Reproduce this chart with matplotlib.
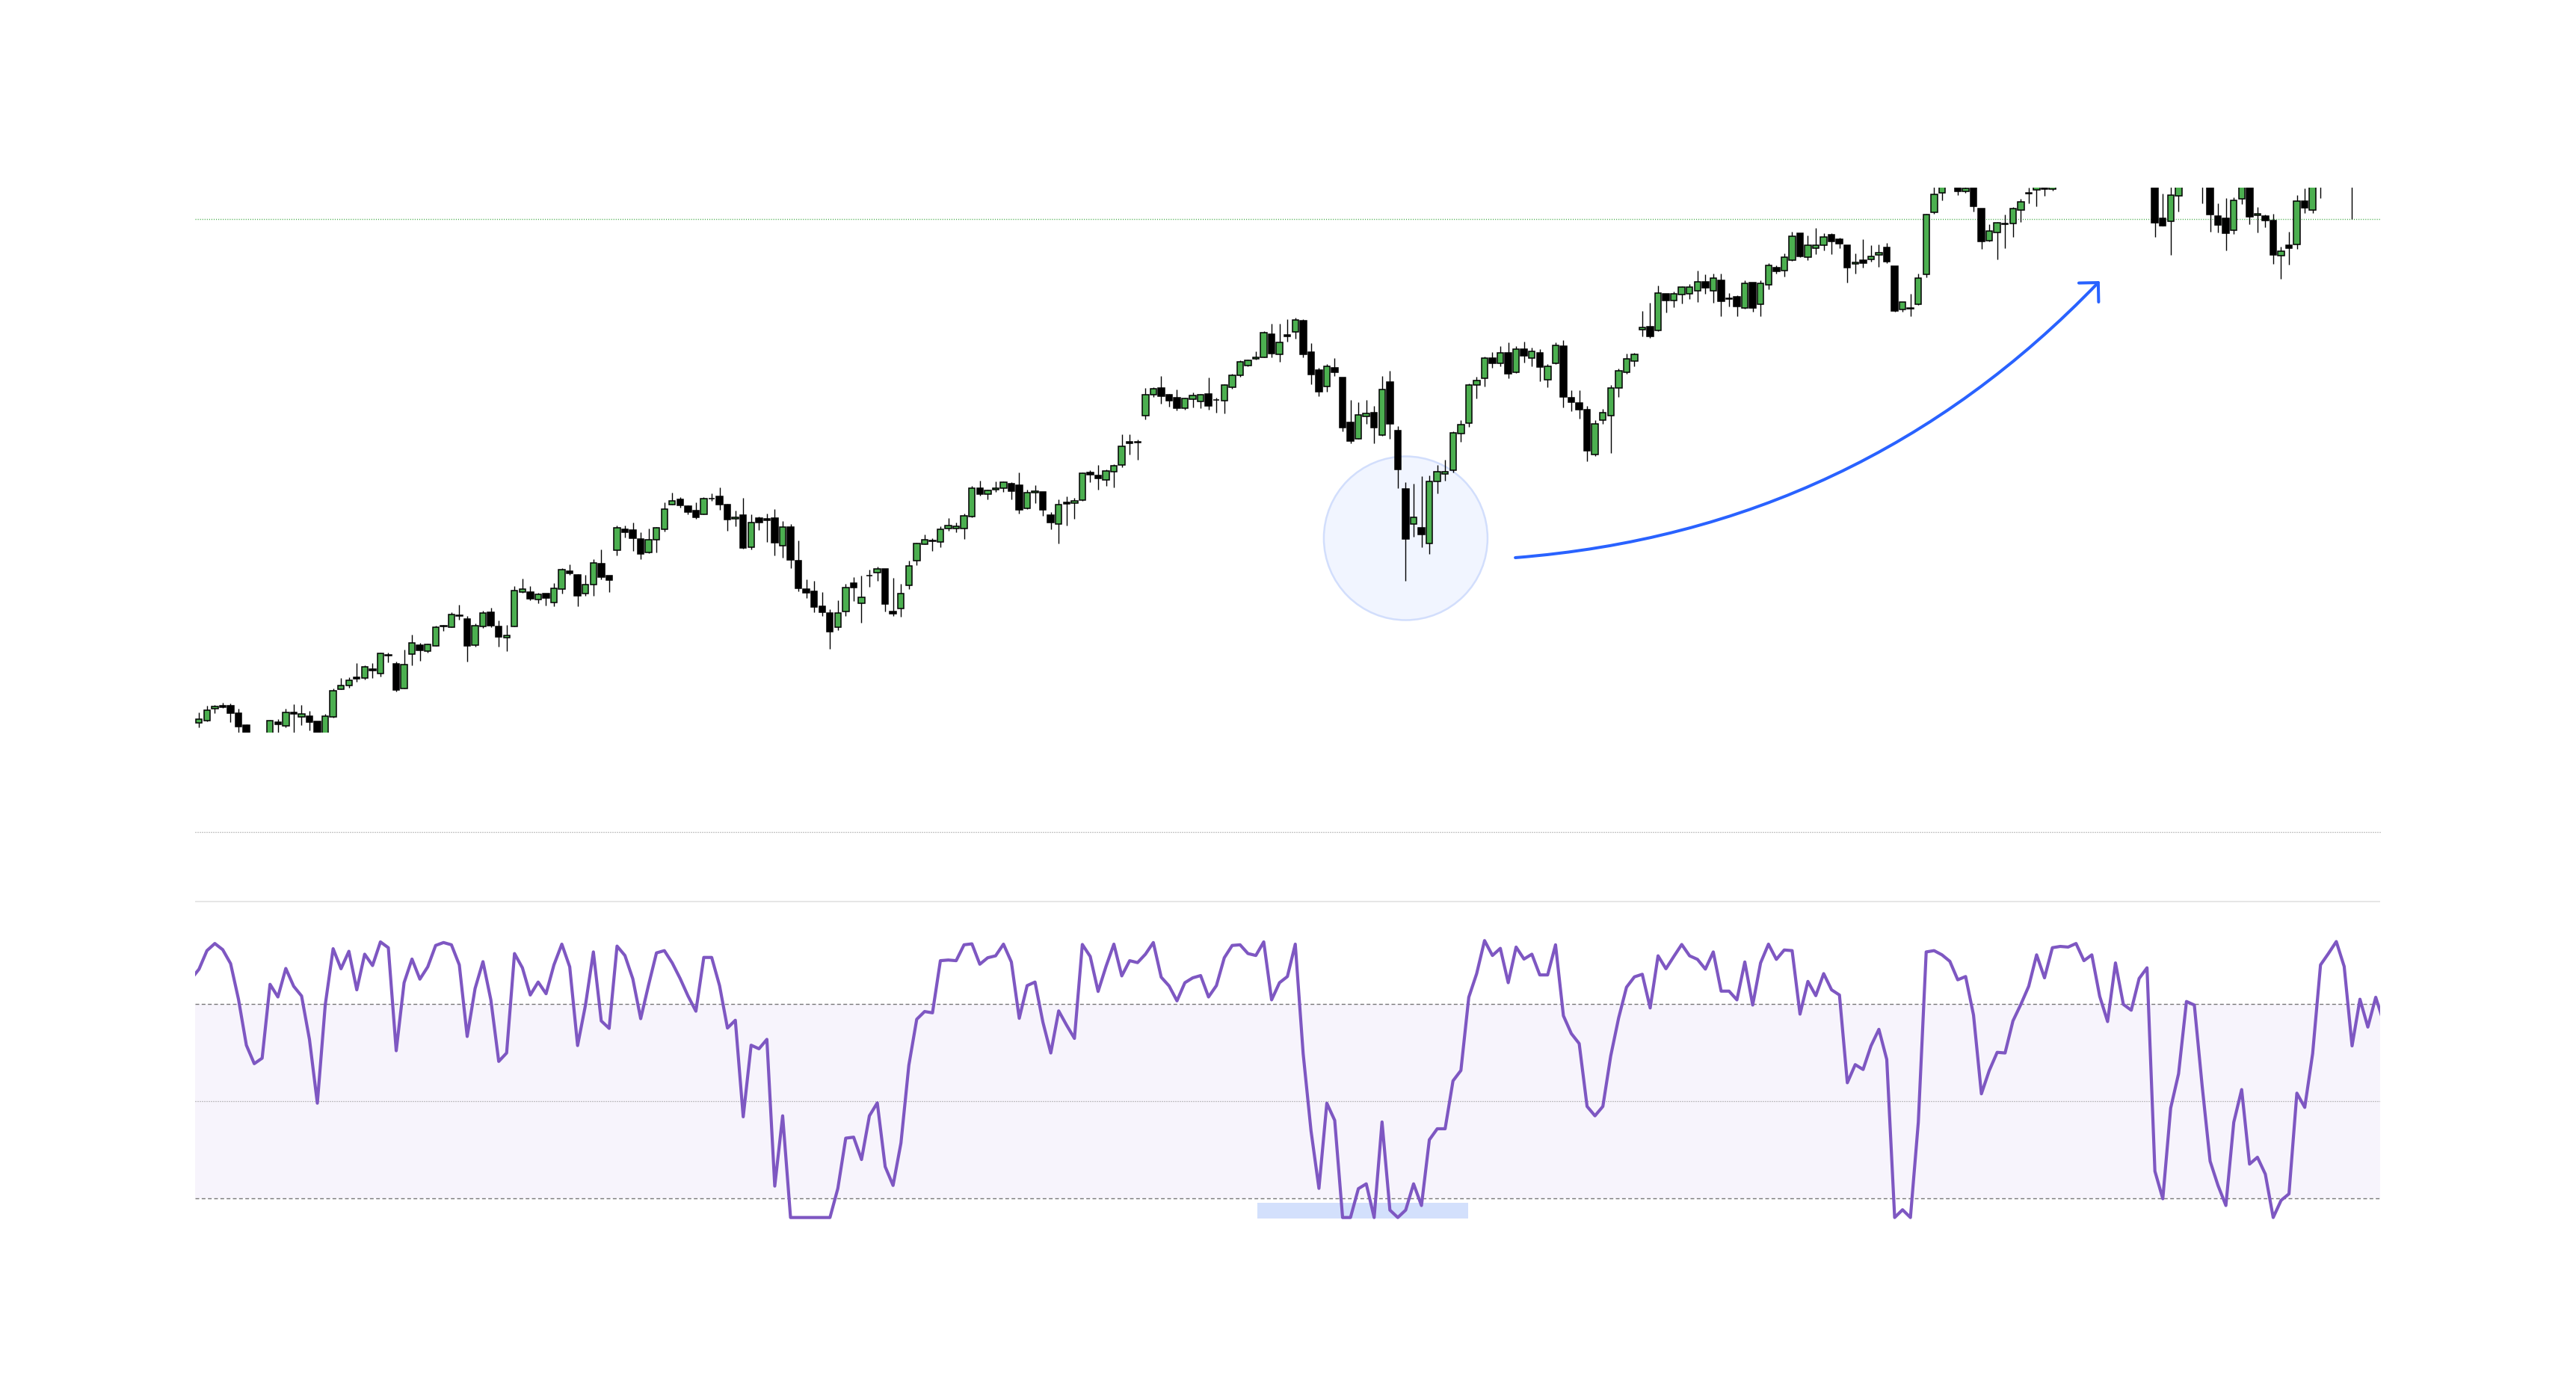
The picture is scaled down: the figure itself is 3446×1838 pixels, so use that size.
import matplotlib
matplotlib.use("Agg")
import matplotlib.pyplot as plt
from matplotlib.patches import Ellipse, Rectangle, FancyArrowPatch, ArrowStyle
import numpy as np

plt.rcParams['lines.scale_dashes'] = False

# ---------------- data (price panel) ----------------
opens = [
    33, 36, 52, 56, 56, 46, 30, 14, 10, 15,
    34, 29, 47, 41, 42, 35, 17, 41, 78, 83,
    94, 93, 105, 99, 124.5, 112, 79, 125, 137, 129,
    136, 162, 161, 176.8, 172, 137, 162, 181, 162, 147,
    162, 208, 208, 198, 206, 194, 212, 236, 231, 206,
    218, 246, 230, 264, 292, 291, 279, 261, 278, 292,
    325, 332, 323, 317, 312, 333.3, 336, 325, 306, 311,
    268, 307, 306, 307, 270, 295, 250, 212, 209, 189,
    180, 161, 182, 220, 193, 230.3, 234, 239, 182, 186,
    217, 250, 272, 277, 275, 293, 293, 293, 309, 347,
    339, 345, 347, 353, 351, 320, 341, 342, 311, 299,
    328, 327, 331, 368, 364, 358, 369, 378, 409, 408.8,
    444, 472, 481, 472, 468, 454, 466, 463, 473, 465.3,
    464, 482, 498, 511, 520, 522, 553, 526, 552, 556,
    571, 529, 505, 483, 508, 495, 435, 413, 443, 448,
    418, 489, 424, 346, 299, 294, 273, 356, 366, 371,
    420, 434, 485, 494, 521, 514, 528, 502, 533, 521,
    528, 492, 514, 537, 468, 461, 452, 392, 438, 444,
    481, 502, 517, 559, 563, 558, 607, 598, 606, 607,
    611, 623, 611, 625, 600, 603, 588, 622, 593, 619,
    642, 638, 652, 688, 656, 668, 672, 686, 680, 672,
    647, 652, 653, 659, 669, 644, 586, 588, 593, 633,
    716, 742, 752, 755, 744, 752, 721, 678, 689, 700,
    701, 719, 742, 746, 753, 747, 753, 760, 768, 776,
    770, 778, 768, 762, 775, 768, 765, 772, 760, 708,
    704, 738, 756, 770, 762, 755, 711, 708, 692, 734,
    755, 712, 711, 705, 658, 672, 673, 731, 719, 755,
    765, 775, 785, 778, 752, 762, 756,
]
highs = [
    47, 56, 57, 60, 59, 52, 31, 18, 16, 37,
    38, 52, 58, 57, 49, 35, 45, 79, 93, 94,
    113, 110, 113, 127, 127, 115, 131, 151, 140, 139,
    163, 164, 181, 191, 176, 166, 183, 187, 170, 164,
    216, 226, 216, 207, 206, 220, 240, 245, 232, 231,
    252, 265, 230, 297, 297, 301, 288, 293, 295, 328,
    341, 335, 324, 328, 335, 340, 348, 326, 317, 334,
    312, 309, 313, 319, 303, 299, 277, 225, 223, 208,
    185, 197, 219, 228, 230, 238, 242, 239, 227, 219,
    250, 274, 285, 280, 296, 307, 301, 313, 350, 357,
    345, 356, 356, 355, 368, 345, 351, 342, 315, 332,
    336, 334, 368, 371, 378, 372, 379, 419, 419, 412,
    481, 482, 497, 473, 479, 468, 475, 473, 495, 468,
    486, 500, 518, 519, 530, 557, 567, 567, 573, 575,
    573, 541, 508, 513, 521, 495, 465, 462, 465, 457,
    497, 504, 430, 355, 353, 363, 364, 378, 385, 423,
    438, 487, 496, 523, 529, 537, 542, 537, 543, 535,
    533, 513, 542, 545, 478, 478, 457, 438, 453, 485,
    507, 527, 528, 584, 595, 618, 607, 610, 617, 620,
    638, 633, 634, 634, 608, 605, 625, 622, 625, 648,
    645, 661, 690, 688, 685, 695, 688, 688, 682, 672,
    661, 680, 672, 673, 675, 644, 596, 607, 634, 714,
    750, 755, 768, 760, 752, 758, 721, 700, 703, 713,
    723, 734, 749, 756, 756, 756, 764, 772, 780, 781,
    783, 780, 771, 778, 778, 772, 776, 780, 770, 741,
    756, 760, 775, 774, 768, 758, 728, 735, 736, 760,
    760, 723, 713, 714, 670, 690, 739, 748, 762, 770,
    780, 790, 790, 782, 766, 766, 770,
]
lows = [
    27, 35, 46, 53, 34, 18, 10, 6, 4, 10,
    18, 27, 18, 30, 23, 12, 14, 40, 78, 80,
    88, 91, 93, 95, 114, 75, 79, 110, 116, 127,
    136, 156, 161, 171, 115, 135, 160, 161, 135, 129,
    162, 207, 197, 193, 190, 189, 206, 231, 189, 203,
    203, 225, 208, 257, 281, 263, 252, 260, 261, 289,
    325, 321, 312, 306, 312, 330, 318, 290, 296, 266,
    265, 291, 275, 257, 254, 240, 209, 200, 181, 176,
    132, 157, 176, 196, 167, 215, 223, 182, 176, 175,
    212, 244, 272, 263, 268, 290, 288, 279, 308, 337,
    332, 342, 342, 332, 313, 319, 327, 310, 292, 273,
    297, 306, 330, 355, 345, 350, 348, 375, 392, 385,
    439, 469, 460, 456, 451, 452, 455, 454, 452, 448,
    447, 480, 496, 510, 519, 522, 522, 516, 543, 547,
    522, 486, 470, 476, 497, 423, 407, 413, 433, 407,
    417, 413, 347, 223, 282, 268, 259, 340, 357, 368,
    409, 429, 467, 483, 508, 510, 494, 501, 515, 510,
    490, 482, 513, 455, 450, 440, 383, 390, 433, 394,
    469, 500, 510, 550, 548, 557, 582, 589, 594, 600,
    596, 607, 595, 577, 590, 577, 587, 583, 577, 613,
    634, 630, 651, 656, 652, 660, 665, 660, 668, 622,
    634, 642, 650, 643, 648, 583, 583, 577, 592, 629,
    714, 732, 750, 739, 742, 717, 667, 677, 653, 668,
    683, 703, 728, 724, 738, 745, 752, 757, 765, 766,
    768, 763, 757, 760, 763, 760, 762, 768, 683, 698,
    659, 717, 752, 758, 728, 690, 689, 665, 687, 727,
    700, 689, 696, 647, 627, 646, 667, 715, 715, 735,
    760, 772, 772, 707, 751, 752, 753,
]
closes = [
    38, 50, 55, 54, 46, 28, 15, 10, 13, 36,
    31, 47, 45, 45, 34, 17, 42, 76, 83, 90,
    92, 108, 103, 126, 123.5, 77, 111, 140, 130, 138,
    161, 163, 178, 176.2, 136, 163, 180, 163, 148, 150,
    210, 212, 199, 205, 200, 213, 238, 233, 203, 218,
    247, 228, 224, 294, 288, 280, 259, 278, 294, 319,
    330, 324, 315, 308, 333, 332.7, 325, 305, 308, 267,
    301, 301, 304, 274, 295, 251, 213, 207, 188, 181,
    155, 180, 214, 214, 201, 229.7, 239, 192, 179, 206,
    243, 273, 278, 276.5, 292, 297, 296, 310, 347, 339,
    344, 347, 355, 343, 318, 341, 343, 318, 301, 325,
    326, 330, 367, 365, 360, 370, 377, 403, 407, 408.4,
    472, 480, 470, 464, 454, 467, 471, 472, 457, 464.8,
    485, 498, 516, 518, 522, 555, 527, 542, 550, 572,
    526, 499, 476, 510, 502, 428, 410, 445, 447, 428,
    479, 433, 372, 279, 308, 285, 356, 369, 369, 421,
    432, 485, 491, 521, 514, 528, 500, 533, 524, 530,
    509, 510, 538, 469, 462, 452, 397, 433, 448, 481,
    504, 520, 526, 562, 550, 608, 598, 607, 616, 616,
    623, 615, 628, 597, 601, 590, 621, 588, 621, 645,
    637, 656, 684, 657, 672, 672, 683, 677, 674, 642,
    649, 648, 657, 662, 650, 584, 596, 587, 628, 713,
    740, 750, 762, 744, 748, 724, 677, 691, 702, 701,
    721, 730, 741.5, 753, 747, 753, 760, 768, 776, 770,
    778, 768, 762, 775, 768, 765, 772, 776, 702, 698,
    739, 756, 770, 762, 755, 713, 699, 688, 732, 755,
    710, 714, 705, 659, 664, 668, 731, 722, 755, 765,
    775, 785, 778, 752, 762, 756, 766,
]
resistance_level = 707

# ---------------- data (oscillator panel), bars -1 .. 277 ----------------
osc = [
    87.6,
    90.7, 96.4, 98.6, 96.7, 92.4, 81.4, 67.2, 61.5, 63.2, 86.0,
    82.1, 90.9, 85.4, 82.4, 69.0, 49.3, 79.6, 97.0, 90.8, 96.2,
    84.3, 95.3, 91.8, 99.1, 97.3, 65.5, 86.5, 93.8, 87.6, 91.4,
    98.0, 98.9, 98.2, 92.0, 69.9, 84.7, 93.0, 81.2, 62.2, 64.8,
    95.5, 91.1, 82.7, 86.7, 83.1, 92.0, 98.4, 91.4, 67.1, 79.6,
    96.0, 74.7, 72.4, 97.8, 94.9, 87.7, 75.4, 85.8, 95.7, 96.4,
    92.6, 87.8, 82.4, 77.7, 94.3, 94.3, 85.6, 72.5, 74.9, 45.1,
    67.2, 66.1, 69.0, 23.7, 45.4, 14, 14, 14, 14, 14,
    14, 23.0, 38.5, 38.8, 31.9, 45.4, 49.4, 29.7, 23.9, 37.0,
    61.0, 75.2, 77.6, 77.2, 93.3, 93.5, 93.3, 98.2, 98.5, 92.2,
    94.2, 94.8, 98.4, 92.9, 75.5, 85.6, 86.7, 74.3, 64.8, 77.8,
    73.4, 69.3, 98.3, 94.6, 83.8, 91.5, 98.4, 88.6, 93.3, 92.7,
    95.3, 98.9, 88.2, 85.5, 80.9, 86.5, 88.0, 88.7, 82.1, 85.6,
    94.2, 98.0, 98.2, 95.5, 94.9, 99.1, 81.2, 86.5, 88.4, 98.4,
    64.6, 40.7, 23.0, 49.3, 44.0, 14, 14, 22.9, 24.4, 14,
    43.5, 16.3, 14, 16.3, 24.4, 17.7, 38.0, 41.4, 41.4, 56.2,
    59.4, 82.0, 89.3, 99.5, 94.9, 97.1, 86.5, 97.5, 93.8, 95.3,
    88.9, 88.9, 98.2, 76.3, 70.8, 67.7, 48.3, 45.4, 48.3, 63.9,
    75.6, 85.1, 88.3, 89.1, 78.7, 94.8, 90.8, 94.6, 98.3, 94.8,
    93.7, 90.7, 96.0, 83.9, 83.9, 81.2, 92.9, 79.6, 92.6, 98.4,
    93.7, 96.6, 96.4, 76.8, 86.9, 82.5, 89.3, 84.3, 82.7, 55.6,
    61.2, 59.7, 67.0, 72.1, 62.8, 14, 16.4, 14, 43.4, 96.0,
    96.4, 95.1, 93.1, 87.4, 88.4, 76.5, 52.2, 59.4, 65.0, 64.8,
    74.7, 79.8, 85.4, 95.1, 88.0, 97.3, 97.7, 97.5, 98.6, 93.3,
    95.1, 82.3, 74.5, 92.6, 79.8, 78.0, 87.8, 91.1, 28.3, 19.8,
    47.8, 58.4, 80.7, 79.6, 54.4, 31.4, 23.9, 17.7, 43.4, 53.5,
    30.5, 32.6, 27.4, 14, 19.3, 21.3, 52.4, 48.0, 64.6, 92.0,
    95.5, 99.2, 91.5, 67.0, 81.4, 72.8, 82.0, 74.3,
]
osc_start = -1
upper_level, mid_level, lower_level = 80, 50, 20

# annotations (in data units)
circle_center = (153, 280)
arrow_from = (166.9, 254)
arrow_to = (241.0, 624)
highlight_x = (134.2, 160.9)
highlight_y = (13.6, 18.5)

# ---------------- figure ----------------
W, H, DPI = 3446, 1838, 200
fig = plt.figure(figsize=(W / DPI, H / DPI), dpi=DPI)
fig.patch.set_facecolor('white')


def frac(x0, y0, x1, y1):
    return [x0 / W, 1 - y1 / H, (x1 - x0) / W, (y1 - y0) / H]


ax = fig.add_axes(frac(261, 251, 3184, 980))
ax2 = fig.add_axes(frac(261, 1112, 3184, 1633))

n = len(opens)
assert len(highs) == n and len(lows) == n and len(closes) == n
x = np.arange(n)
o = np.array(opens, float)
c = np.array(closes, float)
h = np.array(highs, float)
l = np.array(lows, float)
up = c >= o
colors = np.where(up, '#4caf50', '#000000')

XL = (-0.5, 276.56)

# --- price panel
ax.set_xlim(*XL)
ax.set_ylim(20, 749)
ax.axis('off')

ax.add_patch(Ellipse(circle_center, width=2 * 109.5 / 10.55, height=219,
                     facecolor='#f1f5ff', edgecolor='#d2defc', linewidth=0.9, zorder=1))
ax.axhline(resistance_level, color='#4caf50', linewidth=0.5, dashes=(0.4, 0.7), zorder=1.5)

ax.vlines(x, l, h, colors='black', linewidth=0.5, zorder=2)
body_bottom = np.minimum(o, c)
body_h = np.maximum(np.abs(c - o), 0.5)
ax.bar(x, body_h, width=0.8, bottom=body_bottom, color=colors,
       edgecolor='black', linewidth=0.55, zorder=3)

arrow = FancyArrowPatch(posA=arrow_from, posB=arrow_to,
                        connectionstyle='arc3,rad=0.19',
                        arrowstyle=ArrowStyle('->', head_length=6.6, head_width=6.6),
                        color='#2962ff', linewidth=1.45, shrinkA=0, shrinkB=0,
                        capstyle='round', joinstyle='round', zorder=4)
ax.add_patch(arrow)

# --- oscillator panel
ax2.set_xlim(*XL)
ax2.set_ylim(13.0, 133.25)
ax2.axis('off')

ax2.axhspan(lower_level, upper_level, color='#f7f4fc', linewidth=0, zorder=0)
ax2.axhline(upper_level, color='#787878', linewidth=0.5, dashes=(1.8, 1.2), zorder=1)
ax2.axhline(lower_level, color='#787878', linewidth=0.5, dashes=(1.8, 1.2), zorder=1)
ax2.axhline(mid_level, color='#8a8a8a', linewidth=0.45, dashes=(0.36, 0.72), zorder=1)
ax2.axhline(133.0, color='#8a8a8a', linewidth=0.45, dashes=(0.36, 0.72), zorder=1, clip_on=False)
ax2.axhline(111.5, color='#e6e6e6', linewidth=0.7, zorder=1)

ax2.add_patch(Rectangle((highlight_x[0], highlight_y[0]), highlight_x[1] - highlight_x[0],
                        highlight_y[1] - highlight_y[0], facecolor='#d3e0fc',
                        edgecolor='none', zorder=2))
xo = np.arange(osc_start, osc_start + len(osc))
ax2.plot(xo, osc, color='#7e57c2', linewidth=1.5, zorder=3)

fig.savefig('out.png', dpi=DPI, facecolor='white')
